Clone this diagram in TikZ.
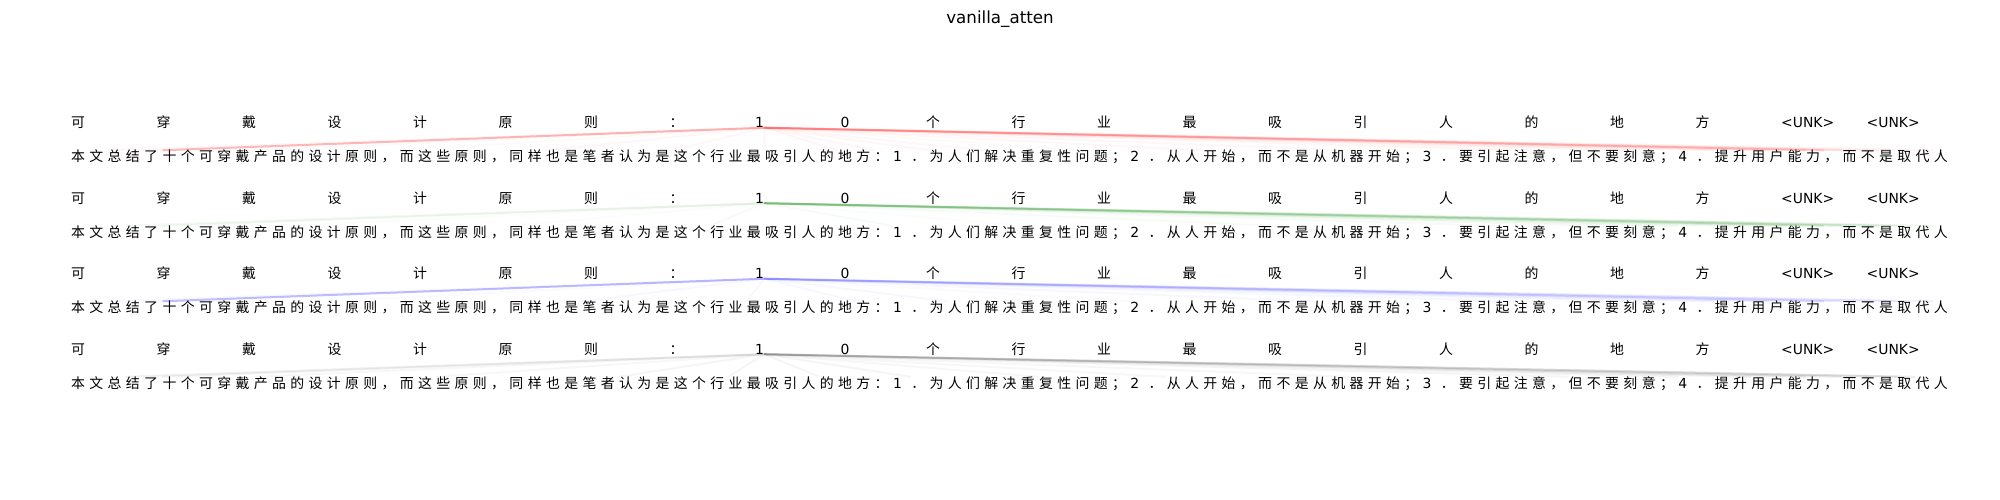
\documentclass[tikz,border=0pt]{standalone}
\usepackage{fontspec}
\setmainfont{DejaVu Sans}
\newfontfamily\cjk{Noto Sans CJK SC}
\usepackage{xcolor}
\usepackage{tikz}
\definecolor{attg}{rgb}{0,0.5,0}
\newcommand\latn[1]{{\normalfont #1}}

\begin{document}
\begin{tikzpicture}[x=1pt,y=-1pt,
  tok/.style={inner sep=0pt,anchor=base west,text height=11pt,text depth=0pt,font=\cjk\fontsize{13.9}{16}\selectfont},
  attn/.style={line width=2pt}]
\useasboundingbox (0,0) rectangle (2000,500);
\node (title) at (1000,24) [anchor=base,font=\fontsize{16.7}{20}\selectfont] {vanilla\_atten};
\foreach \r/\yt/\yb in {1/127.5/161.5,2/203/237,3/278.5/312.5,4/354/388}{
  \foreach \w [count=\i from 0] in {可,穿,戴,设,计,原,则,：,\latn{1},\latn{0},个,行,业,最,吸,引,人,的,地,方,\latn{<UNK>},\latn{<UNK>}}
    \node (t\r-\i) at (71+\i*85.5,\yt) [tok] {\w};
  \foreach \w [count=\i from 0] in {本,文,总,结,了,十,个,可,穿,戴,产,品,的,设,计,原,则,，,而,这,些,原,则,，,同,样,也,是,笔,者,认,为,是,这,个,行,业,最,吸,引,人,的,地,方,：,\latn{1},．,为,人,们,解,决,重,复,性,问,题,；,\latn{2},．,从,人,开,始,，,而,不,是,从,机,器,开,始,；,\latn{3},．,要,引,起,注,意,，,但,不,要,刻,意,；,\latn{4},．,提,升,用,户,能,力,，,而,不,是,取,代,人}
    \node (b\r-\i) at (71+\i*18.262,\yb) [tok] {\w};
}
\foreach \j/\a in {5/.28,2/.03,10/.02,18/.02,26/.03,33/.03,38/.04,42/.04,44/.03,47/.03,50/.03,55/.02,62/.03,70/.03,80/.04,86/.05,90/.06,93/.07,95/.1,96/.12,97/.1,99/.06,102/.04}
  \draw[attn,red,opacity=\a] (t1-8.south east) -- (b1-\j.north west);
\foreach \j/\a in {3/.04,5/.06,12/.02,24/.02,35/.03,45/.03,52/.02,66/.03,78/.03,84/.04,88/.05,91/.06,94/.08,96/.12,97/.1,99/.08,100/.07,102/.06}
  \draw[attn,attg,opacity=\a] (t2-8.south east) -- (b2-\j.north west);
\foreach \j/\a in {5/.26,2/.03,14/.02,28/.03,37/.03,43/.03,48/.03,58/.02,68/.03,79/.03,86/.04,90/.05,93/.06,96/.1,97/.08,100/.07,102/.05}
  \draw[attn,blue,opacity=\a] (t3-8.south east) -- (b3-\j.north west);
\foreach \j/\a in {3/.06,5/.05,10/.03,20/.03,30/.04,36/.04,41/.04,46/.04,53/.03,60/.03,70/.03,82/.04,88/.04,92/.05,95/.06,97/.08,100/.09,101/.07}
  \draw[attn,black,opacity=\a] (t4-8.south east) -- (b4-\j.north west);
\end{tikzpicture}
\end{document}
